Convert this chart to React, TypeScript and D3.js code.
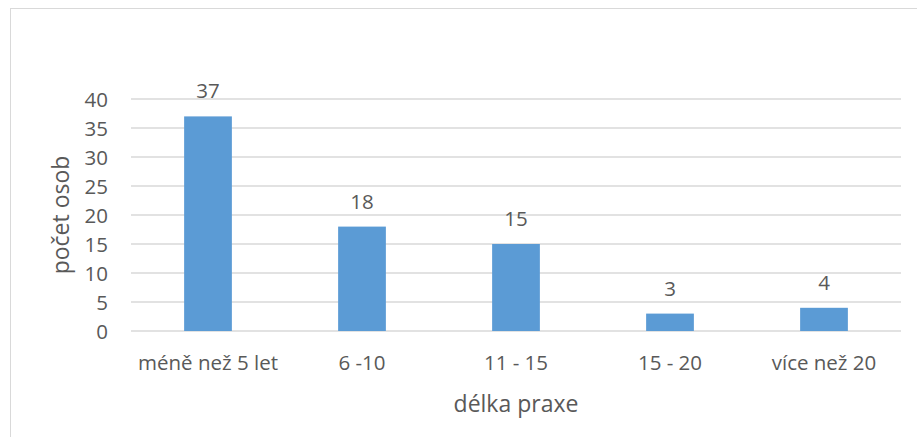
import React from "react";
import * as d3 from "d3";

const categories = ["méně než 5 let", "6 -10", "11 - 15", "15 - 20", "více než 20"];
const counts = [37, 18, 15, 3, 4];
const yTicks = [0, 5, 10, 15, 20, 25, 30, 35, 40];

const W = 917;
const H = 437;
const plot = { left: 131, right: 901, top: 99, bottom: 331 };
const textColor = "#595959";
const font = "'Open Sans', sans-serif";

export default function App() {
  const x = d3
    .scaleBand<string>()
    .domain(categories)
    .range([plot.left, plot.right])
    .paddingInner(0.69)
    .paddingOuter(0.345);
  const y = d3.scaleLinear().domain([0, 40]).range([plot.bottom, plot.top]);
  const band = d3.scaleBand<string>().domain(categories).range([plot.left, plot.right]);

  return (
    <svg
      width={W}
      height={H}
      style={{ position: "absolute", left: 0, top: 0, background: "#fff" }}
      fontFamily={font}
    >
      <rect x={10.5} y={8.5} width={W} height={H} fill="#fff" stroke="#d9d9d9" />
      {yTicks.map((t) => (
        <g key={t}>
          <line
            x1={plot.left}
            x2={plot.right}
            y1={y(t)}
            y2={y(t)}
            stroke="#d9d9d9"
            strokeWidth={1.3}
          />
          <text
            x={108}
            y={y(t)}
            textAnchor="end"
            dominantBaseline="central"
            fontSize={20.5}
            fill={textColor}
          >
            {t}
          </text>
        </g>
      ))}
      {categories.map((c, i) => (
        <g key={c}>
          <rect
            x={x(c)}
            y={y(counts[i])}
            width={x.bandwidth()}
            height={y(0) - y(counts[i])}
            fill="#5b9bd5"
          />
          <text
            x={(x(c) ?? 0) + x.bandwidth() / 2}
            y={y(counts[i]) - 26}
            textAnchor="middle"
            dominantBaseline="central"
            fontSize={20.5}
            fill={textColor}
          >
            {counts[i]}
          </text>
          <text
            x={(band(c) ?? 0) + band.bandwidth() / 2}
            y={362}
            textAnchor="middle"
            dominantBaseline="central"
            fontSize={20.5}
            fill={textColor}
          >
            {c}
          </text>
        </g>
      ))}
      <text
        x={(plot.left + plot.right) / 2}
        y={403}
        textAnchor="middle"
        dominantBaseline="central"
        fontSize={23}
        fill={textColor}
      >
        délka praxe
      </text>
      <text
        transform={`translate(60, ${(plot.top + plot.bottom) / 2}) rotate(-90)`}
        textAnchor="middle"
        dominantBaseline="central"
        fontSize={23}
        fill={textColor}
      >
        počet osob
      </text>
    </svg>
  );
}
